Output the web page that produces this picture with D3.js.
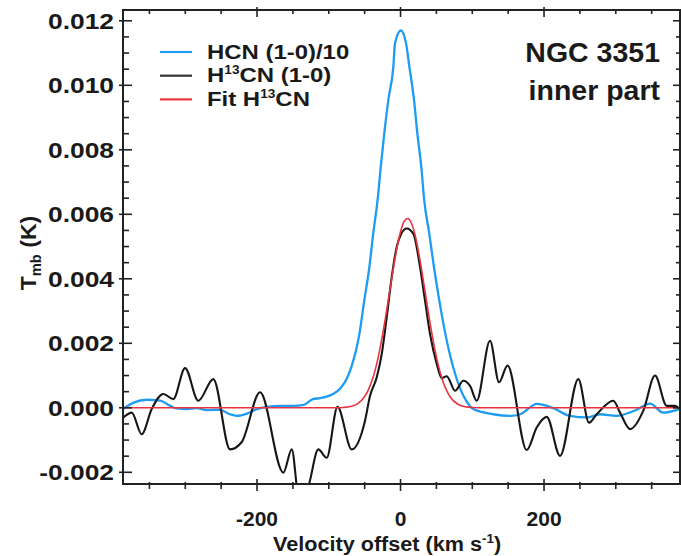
<!DOCTYPE html>
<html><head><meta charset="utf-8">
<script src="https://cdn.jsdelivr.net/npm/d3@7"></script>
<style>
body{margin:0;background:#fff}
text{font-family:"Liberation Sans",Arial,sans-serif;font-weight:bold;fill:#1a1a1a}
</style>
</head><body><svg id="c" width="681" height="556"></svg>
<script>
// HCN (1-0)/10
const hcnVel = [-387,-372,-354,-335,-321,-312,-298,-284,-270,-252,-238,-228,-214,-200,-186,-168,-149,-135,-122,-112,-94,-84,-75,-68,-58,-50.5,-43.5,-38,-32,-27.6,-22.6,-17,-10,-7.7,0.5,7.7,12.3,18.8,23.4,29,33,40,46.7,54,62.4,73.6,83,92,101.5,129,153,167,190,213,236,260,278,301,325,348,366,389];
const hcnT = [-0.00004,0.00016,0.00025,0.00022,0.00006,-0.00002,-0.00004,-0.00001,-0.00007,-0.00006,-0.0002,-0.00025,-0.00018,-0.00004,0.00003,0.00006,0.00006,0.00009,0.00027,0.0003,0.00043,0.0006,0.0009,0.0013,0.0022,0.00333,0.00435,0.00541,0.00644,0.00746,0.00852,0.00955,0.01058,0.0113,0.0117,0.0113,0.01058,0.00955,0.00852,0.00746,0.00644,0.00541,0.00435,0.00333,0.0023,0.00124,0.0006,0.0002,-0.00004,-0.0002,-0.00025,-0.0002,0.00012,-0.00001,-0.00025,-0.0003,-0.0002,-0.00025,-0.0001,0.00013,-0.00015,-0.00004];
// H13CN (1-0)
const h13Vel = [-386.3,-374.6,-360.7,-346.8,-330.6,-316.7,-300.3,-281.8,-260.9,-237.6,-221.3,-195.8,-163.3,-151.6,-141.5,-128.5,-114.6,-102.9,-87.8,-68,-49.5,-42.5,-33.2,-26.2,-19.2,-12.3,-5.3,1,8.6,17.8,27.2,34.1,41.1,50.5,57.5,64.4,76,87.5,96.9,106.2,124.7,137.3,149.1,175.9,189.8,203.8,222.3,247.8,262.7,273.4,296.6,305.9,319.9,338.4,354.7,371,382.6,389.5];
const h13T = [-0.0003,-0.00015,-0.00082,-0.00004,0.00043,0.00027,0.00123,0.00022,0.00089,-0.00129,-0.00106,0.00048,-0.00201,-0.00129,-0.0028,-0.00243,-0.00129,-0.00155,0.00003,-0.00129,-0.0004,0.00037,0.00094,0.00167,0.00281,0.00405,0.00499,0.0054,0.00556,0.0054,0.00436,0.00333,0.00229,0.00136,0.00092,0.00098,0.00053,0.00084,0.00068,0.00022,0.00208,0.00079,0.00131,-0.00131,-0.00061,-0.00028,-0.00149,0.00089,-0.00046,-0.0002,0.00022,-0.00015,-0.00066,-0.00009,0.001,0.00006,0.00006,-0.00004];
// Fit H13CN
const fitVel = [-387,-100,-90,-80,-70,-60,-50,-45,-40,-35,-30,-25,-20,-15,-10,-5,0,5,10,15,20,25,30,35,40,45,50,55,60,65,70,80,90,100,120,389];
const fitT = [0,0,0,0.00001,0.00004,0.00012,0.00035,0.00055,0.00083,0.0012,0.00169,0.00227,0.00293,0.00363,0.00433,0.00496,0.00546,0.00578,0.00587,0.00573,0.00538,0.00484,0.00419,0.00349,0.00279,0.00214,0.00158,0.00112,0.00076,0.0005,0.00031,0.00011,0.00003,0.00001,0,0];

const xTickLabels = [-200, 0, 200];
const yTickLabels = [-0.002, 0.000, 0.002, 0.004, 0.006, 0.008, 0.010, 0.012];
const legendLabels = ["HCN (1-0)/10", "H13CN (1-0)", "Fit H13CN"];
const colors = {hcn:"#1e9cf2", h13:"#161616", fit:"#e8343e"};

const L=123, R=680, T=10, B=484;
const svg = d3.select("#c");
const x = d3.scaleLinear().domain([-386.8, 389.5]).range([L, R]);
const y = d3.scaleLinear().domain([-0.002363, 0.012335]).range([B, T]);

svg.append("defs").append("clipPath").attr("id","clip")
  .append("rect").attr("x",L).attr("y",T).attr("width",R-L).attr("height",B-T);

const line = d3.line().x(d=>x(d[0])).y(d=>y(d[1])).curve(d3.curveMonotoneX);
const g = svg.append("g").attr("clip-path","url(#clip)");
g.append("path").datum(d3.zip(hcnVel,hcnT)).attr("d",line).attr("fill","none").attr("stroke",colors.hcn).attr("stroke-width",2.3);
g.append("path").datum(d3.zip(h13Vel,h13T)).attr("d",line).attr("fill","none").attr("stroke",colors.h13).attr("stroke-width",2.1);
g.append("path").datum(d3.zip(fitVel,fitT)).attr("d",line).attr("fill","none").attr("stroke",colors.fit).attr("stroke-width",1.6);

// frame
svg.append("rect").attr("x",L).attr("y",T).attr("width",R-L).attr("height",B-T)
  .attr("fill","none").attr("stroke","#222").attr("stroke-width",2);

// ticks
const xt = d3.range(-350, 351, 50);
const yt = d3.range(-0.002, 0.01201, 0.0005);
const tk = svg.append("g").attr("stroke","#222").attr("stroke-width",1.6);
xt.forEach(v=>{
  const major = Math.abs(v % 200) < 1e-9;
  const px = x(v);
  tk.append("line").attr("x1",px).attr("x2",px).attr("y1",B-(major?5:2)).attr("y2",B+(major?7:5));
  tk.append("line").attr("x1",px).attr("x2",px).attr("y1",T-(major?3:0)).attr("y2",T+(major?7:4));
});
yt.forEach(v=>{
  const major = Math.abs(Math.round(v*1e4) % 20) < 1e-6;
  const py = y(v);
  tk.append("line").attr("y1",py).attr("y2",py).attr("x1",L-(major?4:0)).attr("x2",L+(major?9:6));
  tk.append("line").attr("y1",py).attr("y2",py).attr("x1",R-(major?7:4)).attr("x2",R);
});

// helper: horizontally stretched text anchored at (ax, ay)
function stext(parent, ax, ay, sx, size, anchor){
  return parent.append("g").attr("transform",`translate(${ax},${ay}) scale(${sx},1)`)
    .append("text").attr("x",0).attr("y",0).attr("font-size",size).attr("text-anchor",anchor||"start");
}

// tick labels
xTickLabels.forEach(d=>{
  stext(svg, x(d), 526, 1.0, 21, "middle").text(d===0?"0":String(d));
});
yTickLabels.forEach(d=>{
  stext(svg, 114, y(d)+8, 1.2, 22, "end").text(d3.format(".3f")(d).replace("−","-"));
});

// axis titles
const xl = stext(svg, 273, 551, 1.03, 21, "start");
xl.append("tspan").text("Velocity offset (km s");
xl.append("tspan").attr("font-size",13).attr("dy",-8).text("-1");
xl.append("tspan").attr("dy",8).text(")");

const yl = svg.append("g").attr("transform","translate(36,253) rotate(-90) scale(1.05,1)")
  .append("text").attr("text-anchor","middle").attr("font-size",22);
yl.append("tspan").text("T");
yl.append("tspan").attr("font-size",14).attr("dy",5).text("mb");
yl.append("tspan").attr("dy",-5).text(" (K)");

// legend
const lcol = [colors.hcn, "#333", colors.fit];
[0,1,2].forEach(i=>{
  const yy = 52 + i*23.7;
  svg.append("line").attr("x1",160).attr("x2",192).attr("y1",yy).attr("y2",yy).attr("stroke",lcol[i]).attr("stroke-width",2.2);
  const t = stext(svg, 207, yy+6.5, 1.14, 21, "start");
  const lab = legendLabels[i];
  if (lab.includes("13")) {
    const [a,b] = lab.split("13");
    t.append("tspan").text(a);
    t.append("tspan").attr("font-size",12).attr("dy",-8).text("13");
    t.append("tspan").attr("dy",8).text(b);
  } else t.text(lab);
});

// title
stext(svg, 660, 62, 1.0, 28.5, "end").text("NGC 3351");
stext(svg, 660, 100, 1.0, 28.5, "end").text("inner part");
</script></body></html>
